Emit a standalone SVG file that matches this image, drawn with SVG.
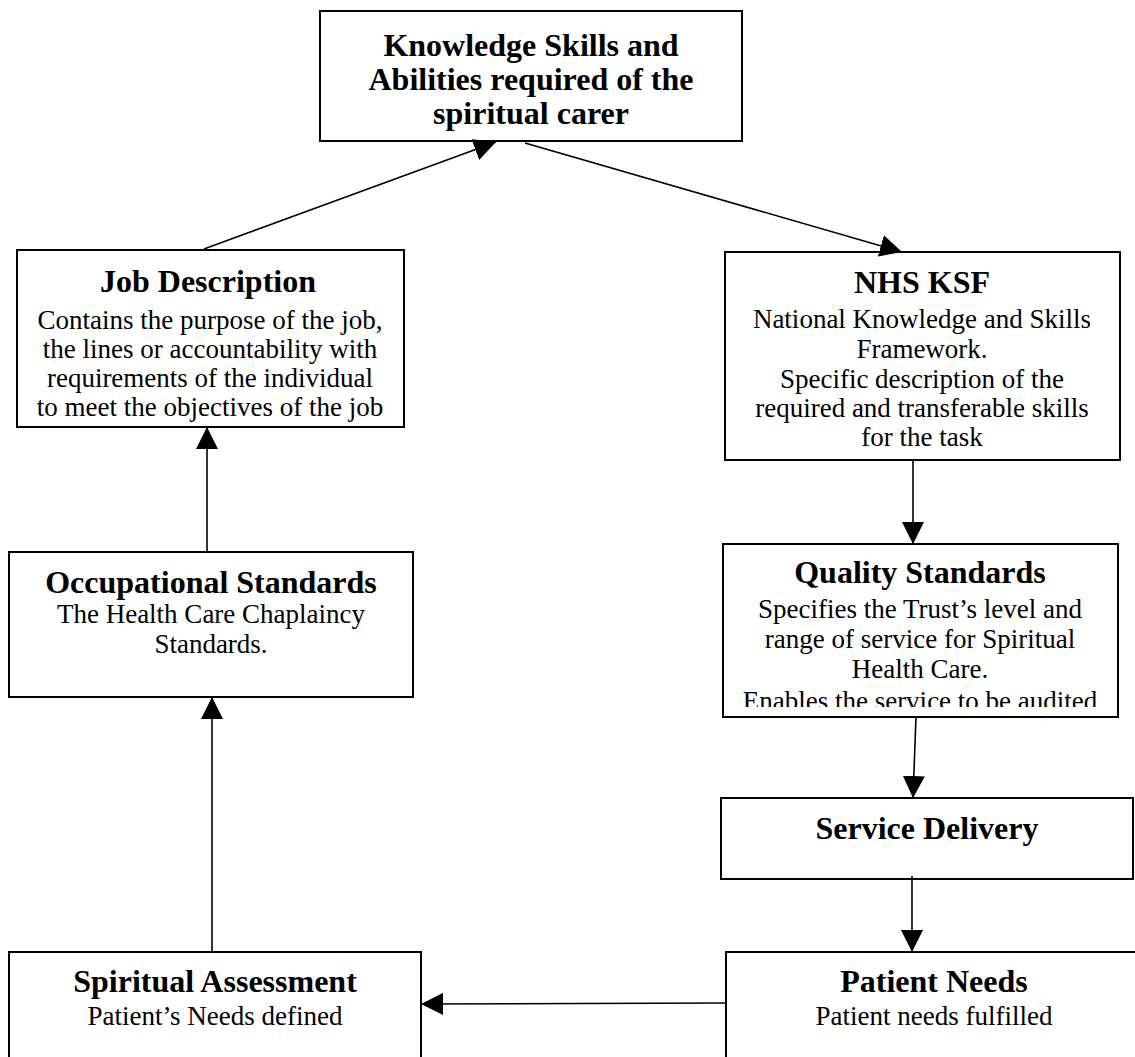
<svg xmlns="http://www.w3.org/2000/svg" width="1135" height="1057" viewBox="0 0 1135 1057">
  <style>
    .box { fill: #ffffff; stroke: #000000; stroke-width: 2; }
    .title { font-family: "Liberation Serif", "Times New Roman", serif; font-size: 32px; font-weight: bold; fill: #000; text-anchor: middle; }
    .body { font-family: "Liberation Serif", "Times New Roman", serif; font-size: 27px; fill: #000; text-anchor: middle; }
    .conn { stroke: #000; stroke-width: 1.6; fill: none; }
  </style>
  <defs>
    <marker id="arrow" markerUnits="userSpaceOnUse" markerWidth="22" markerHeight="22" refX="20" refY="10" orient="auto" viewBox="0 0 20 20">
      <path d="M0,0 L20,10 L0,20 z" fill="#000"/>
    </marker>
    <clipPath id="qclip">
      <rect x="723" y="544" width="395" height="163"/>
    </clipPath>
  </defs>
  <rect width="1135" height="1057" fill="#ffffff"/>

  <g id="ksa">
    <rect class="box" x="320" y="11" width="422" height="130"/>
    <text class="title" x="531" y="56">Knowledge Skills and</text>
    <text class="title" x="531" y="90">Abilities required of the</text>
    <text class="title" x="531" y="124">spiritual carer</text>
  </g>

  <g id="job-description">
    <rect class="box" x="17" y="250" width="387" height="177"/>
    <text class="title" x="208" y="292">Job Description</text>
    <text class="body" x="210" y="329">Contains the purpose of the job,</text>
    <text class="body" x="210" y="358">the lines or accountability with</text>
    <text class="body" x="210" y="387">requirements of the individual</text>
    <text class="body" x="210" y="416">to meet the objectives of the job</text>
  </g>

  <g id="nhs-ksf">
    <rect class="box" x="725" y="252" width="395" height="208"/>
    <text class="title" x="922" y="293">NHS KSF</text>
    <text class="body" x="922" y="328">National Knowledge and Skills</text>
    <text class="body" x="922" y="358">Framework.</text>
    <text class="body" x="922" y="388">Specific description of the</text>
    <text class="body" x="922" y="417">required and transferable skills</text>
    <text class="body" x="922" y="446">for the task</text>
  </g>

  <g id="occupational-standards">
    <rect class="box" x="9" y="552" width="404" height="145"/>
    <text class="title" x="211" y="593">Occupational Standards</text>
    <text class="body" x="211" y="623">The Health Care Chaplaincy</text>
    <text class="body" x="211" y="653">Standards.</text>
  </g>

  <g id="quality-standards">
    <rect class="box" x="723" y="544" width="395" height="173"/>
    <text class="title" x="920" y="583">Quality Standards</text>
    <text class="body" x="920" y="618">Specifies the Trust’s level and</text>
    <text class="body" x="920" y="648">range of service for Spiritual</text>
    <text class="body" x="920" y="678">Health Care.</text>
    <text class="body" x="920" y="710" clip-path="url(#qclip)">Enables the service to be audited</text>
  </g>

  <g id="service-delivery">
    <rect class="box" x="721" y="798" width="412" height="81"/>
    <text class="title" x="927" y="839">Service Delivery</text>
  </g>

  <g id="spiritual-assessment">
    <rect class="box" x="9" y="952" width="412" height="120"/>
    <text class="title" x="215" y="992">Spiritual Assessment</text>
    <text class="body" x="215" y="1025">Patient’s Needs defined</text>
  </g>

  <g id="patient-needs">
    <rect class="box" x="726" y="952" width="416" height="120"/>
    <text class="title" x="934" y="992">Patient Needs</text>
    <text class="body" x="934" y="1025">Patient needs fulfilled</text>
  </g>

  <g id="connectors">
    <line class="conn" x1="204" y1="249" x2="496" y2="142" marker-end="url(#arrow)"/>
    <line class="conn" x1="525" y1="143" x2="902" y2="252" marker-end="url(#arrow)"/>
    <line class="conn" x1="913" y1="460" x2="913" y2="544" marker-end="url(#arrow)"/>
    <line class="conn" x1="916" y1="717" x2="913" y2="798" marker-end="url(#arrow)"/>
    <line class="conn" x1="912" y1="876" x2="912" y2="952" marker-end="url(#arrow)"/>
    <line class="conn" x1="726" y1="1003" x2="421" y2="1004" marker-end="url(#arrow)"/>
    <line class="conn" x1="212" y1="952" x2="212" y2="697" marker-end="url(#arrow)"/>
    <line class="conn" x1="207" y1="552" x2="207" y2="427" marker-end="url(#arrow)"/>
  </g>
</svg>
